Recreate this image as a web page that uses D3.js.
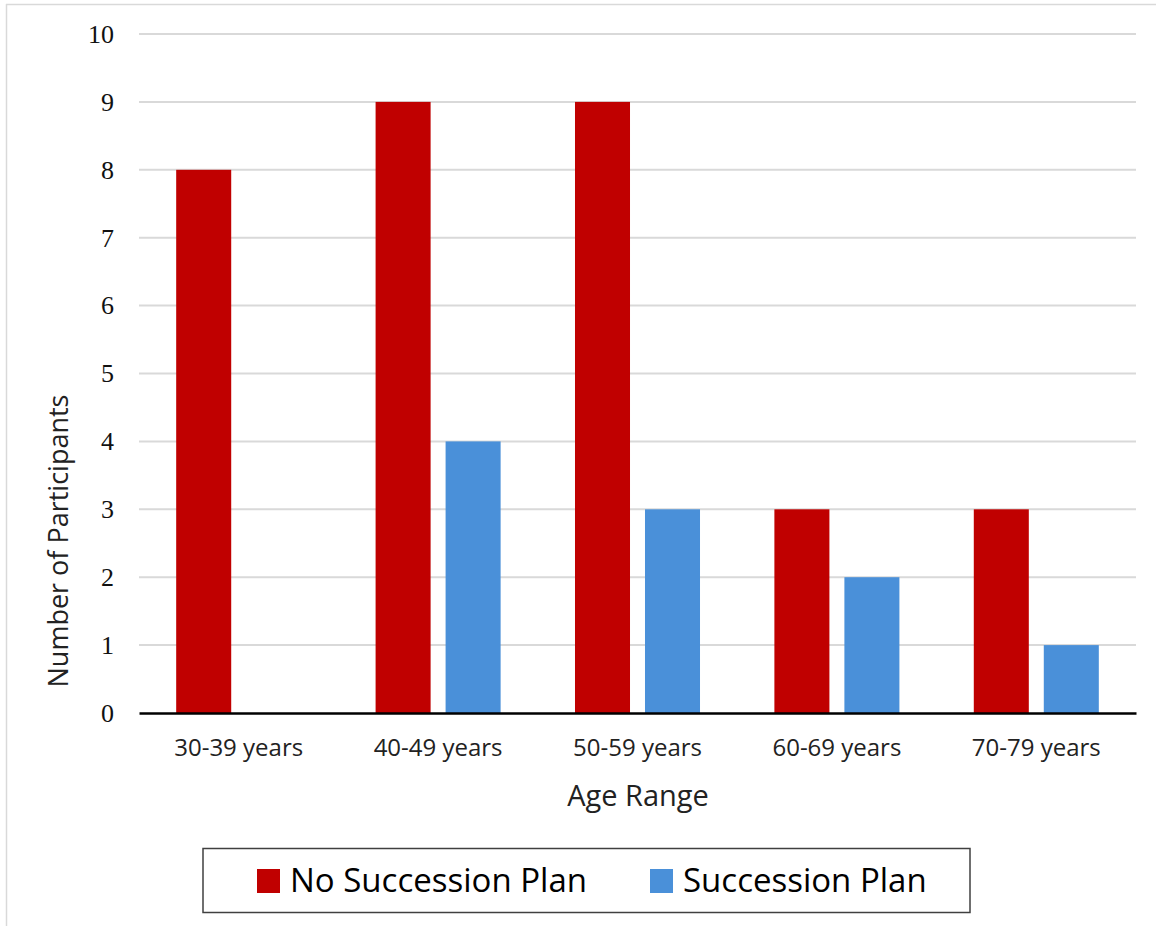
<!DOCTYPE html>
<html>
<head>
<meta charset="utf-8">
<script src="https://cdnjs.cloudflare.com/ajax/libs/d3/7.8.5/d3.min.js"></script>
<style>
  body { margin: 0; background: #fff; }
</style>
</head>
<body>
<script>
// chart data
const categories = ["30-39 years", "40-49 years", "50-59 years", "60-69 years", "70-79 years"];
const seriesNames = ["No Succession Plan", "Succession Plan"];
const noPlan = [8, 9, 9, 3, 3];
const plan = [0, 4, 3, 2, 1];
const yTicks = [0, 1, 2, 3, 4, 5, 6, 7, 8, 9, 10];

const w = 1156;
const h = 926;
const colors = ["#c00000", "#4a90d9"];

const svg = d3.select('body')
  .append('svg')
  .attr('width', w)
  .attr('height', h);

// outer frame (top + left only visible)
svg.append('line')
  .attr('x1', 6).attr('x2', w).attr('y1', 4.5).attr('y2', 4.5)
  .attr('stroke', '#d9d9d9').attr('stroke-width', 1.5);
svg.append('line')
  .attr('x1', 6.5).attr('x2', 6.5).attr('y1', 4).attr('y2', h)
  .attr('stroke', '#d9d9d9').attr('stroke-width', 1.5);

// plot area
const plotLeft = 139, plotRight = 1136, plotTop = 34, plotBottom = 713;

const yScale = d3.scaleLinear().domain([0, 10]).range([plotBottom, plotTop]);

const x0 = d3.scaleBand()
  .domain(categories)
  .range([plotLeft, plotRight])
  .paddingInner(0.373)
  .paddingOuter(0.1865);

const x1 = d3.scaleBand()
  .domain(seriesNames)
  .range([0, x0.bandwidth()])
  .paddingInner(0.214);

// gridlines
svg.append('g')
  .selectAll('line')
  .data(yTicks.filter(d => d > 0))
  .enter()
  .append('line')
  .attr('x1', plotLeft).attr('x2', plotRight)
  .attr('y1', d => yScale(d)).attr('y2', d => yScale(d))
  .attr('stroke', '#d9d9d9')
  .attr('stroke-width', 2);

// y tick labels
const yAxis = d3.axisLeft(yScale).tickValues(yTicks).tickSize(0).tickPadding(25);
const yG = svg.append('g')
  .attr('transform', `translate(${plotLeft}, 0)`)
  .call(yAxis);
yG.select('.domain').remove();
yG.selectAll('text')
  .style('font-family', '"Liberation Serif", "Times New Roman", serif')
  .style('font-size', '26px')
  .attr('fill', '#111');

// bars
const rows = categories.map((c, i) => ({ cat: c, vals: [noPlan[i], plan[i]] }));
const groups = svg.append('g')
  .selectAll('g')
  .data(rows)
  .enter()
  .append('g')
  .attr('transform', d => `translate(${x0(d.cat)}, 0)`);

groups.selectAll('rect')
  .data(d => d.vals.map((v, j) => ({ name: seriesNames[j], v: v, j: j })))
  .enter()
  .append('rect')
  .attr('x', d => x1(d.name))
  .attr('y', d => yScale(d.v))
  .attr('width', x1.bandwidth())
  .attr('height', d => yScale(0) - yScale(d.v))
  .attr('fill', d => colors[d.j]);

// x axis
const xAxis = d3.axisBottom(x0).tickSize(0).tickPadding(26);
const xG = svg.append('g')
  .attr('transform', `translate(0, ${plotBottom})`)
  .call(xAxis);
xG.select('.domain')
  .attr('stroke', '#000')
  .attr('stroke-width', 2.5);
xG.selectAll('text')
  .style('font-family', '"Open Sans", sans-serif')
  .style('font-size', '24px')
  .attr('fill', '#222');

// axis titles
svg.append('text')
  .attr('x', 638)
  .attr('y', 806)
  .attr('text-anchor', 'middle')
  .style('font-family', '"Open Sans", sans-serif')
  .style('font-size', '29px')
  .attr('fill', '#222')
  .text('Age Range');

svg.append('text')
  .attr('transform', 'translate(68, 541) rotate(-90)')
  .attr('text-anchor', 'middle')
  .style('font-family', '"Open Sans", sans-serif')
  .style('font-size', '27px')
  .attr('fill', '#222')
  .text('Number of Participants');

// legend
svg.append('rect')
  .attr('x', 203).attr('y', 848.5)
  .attr('width', 767).attr('height', 64)
  .attr('fill', 'none')
  .attr('stroke', '#404040')
  .attr('stroke-width', 1.5);

const legendX = [257, 650];
seriesNames.forEach((name, i) => {
  svg.append('rect')
    .attr('x', legendX[i]).attr('y', 869)
    .attr('width', 23).attr('height', 24)
    .attr('fill', colors[i]);
  svg.append('text')
    .attr('x', legendX[i] + 33)
    .attr('y', 892)
    .style('font-family', '"Open Sans", sans-serif')
    .style('font-size', '33px')
    .attr('fill', '#000')
    .text(name);
});
</script>
</body>
</html>
